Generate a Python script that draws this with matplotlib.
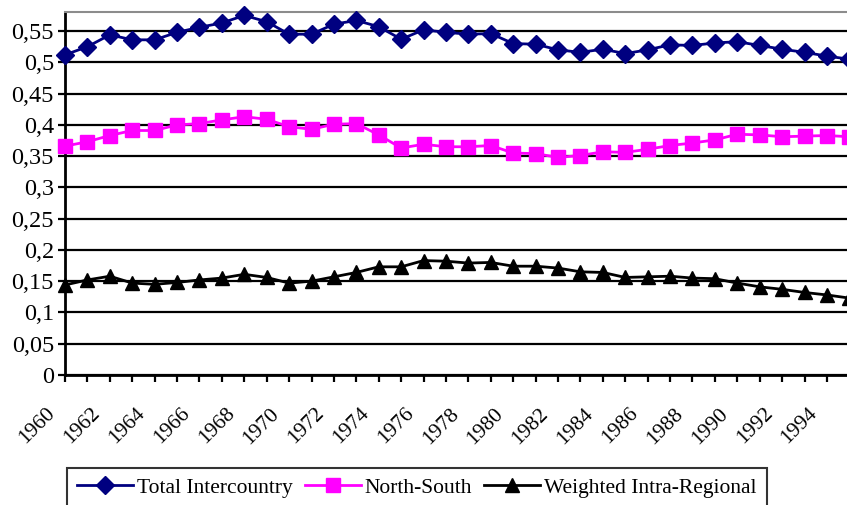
import numpy as np
import matplotlib
matplotlib.use('Agg')
from matplotlib import pyplot as plt
from matplotlib.ticker import MultipleLocator, FuncFormatter
from matplotlib.transforms import ScaledTranslation

plt.rcParams['font.family'] = ['Liberation Serif', 'DejaVu Serif']

years = list(range(1960, 1996))
total_intercountry = [0.512, 0.525, 0.544, 0.536, 0.536, 0.548, 0.556, 0.563, 0.575, 0.565,
                      0.545, 0.545, 0.561, 0.567, 0.557, 0.537, 0.552, 0.548, 0.545, 0.546,
                      0.530, 0.529, 0.520, 0.516, 0.521, 0.514, 0.520, 0.528, 0.527, 0.531,
                      0.533, 0.527, 0.521, 0.516, 0.510, 0.505]
north_south = [0.366, 0.373, 0.383, 0.391, 0.391, 0.400, 0.402, 0.408, 0.413, 0.409,
               0.397, 0.393, 0.401, 0.402, 0.384, 0.363, 0.369, 0.365, 0.365, 0.367,
               0.355, 0.354, 0.348, 0.351, 0.357, 0.356, 0.361, 0.367, 0.371, 0.376,
               0.385, 0.384, 0.381, 0.382, 0.383, 0.381]
intra_regional = [0.144, 0.152, 0.158, 0.147, 0.145, 0.148, 0.152, 0.155, 0.161, 0.156,
                  0.147, 0.150, 0.157, 0.164, 0.173, 0.173, 0.183, 0.182, 0.179, 0.180,
                  0.174, 0.174, 0.171, 0.165, 0.164, 0.156, 0.157, 0.158, 0.155, 0.154,
                  0.147, 0.141, 0.137, 0.132, 0.128, 0.123]

fig = plt.figure(figsize=(8.47, 5.05), dpi=100)
ax = fig.add_axes([65/847, 130/505, (847-65)/847, 363/505])

ax.plot(years, total_intercountry, color='#000080', lw=2, marker='D', ms=9,
        label='Total Intercountry', clip_on=False, zorder=5)
ax.plot(years, north_south, color='#FF00FF', lw=2, marker='s', ms=10,
        label='North-South', clip_on=False, zorder=5)
ax.plot(years, intra_regional, color='black', lw=2, marker='^', ms=10,
        label='Weighted Intra-Regional', clip_on=False, zorder=5)

ax.set_xlim(1960, 1960 + (847 - 65) / 22.41)
ax.set_ylim(0, 0.5805)

ax.yaxis.set_major_locator(MultipleLocator(0.05))
ax.yaxis.set_major_formatter(FuncFormatter(lambda v, p: f'{round(v, 2):g}'.replace('.', ',')))
ax.xaxis.set_major_locator(MultipleLocator(2))
ax.xaxis.set_minor_locator(MultipleLocator(1))
ax.xaxis.set_major_formatter(FuncFormatter(lambda v, p: f'{int(round(v))}'))

ax.grid(axis='y', color='black', lw=1.6, zorder=0)
ax.set_axisbelow(True)

ax.spines['right'].set_visible(False)
ax.spines['top'].set_color('#8c8c8c')
ax.spines['top'].set_linewidth(1.5)
ax.spines['left'].set_linewidth(2)
ax.spines['bottom'].set_linewidth(2)

ax.tick_params(axis='y', length=5, width=1.6, labelsize=17.5, pad=3)
ax.tick_params(axis='x', which='both', length=5, width=1.6, labelsize=15.5, pad=6)
shift = ScaledTranslation(-19/100, -14/100, fig.dpi_scale_trans)
for lab in ax.get_xticklabels():
    lab.set_rotation(45)
    lab.set_ha('right')
    lab.set_va('top')
    lab.set_rotation_mode('anchor')
    lab.set_transform(lab.get_transform() + shift)

leg = fig.legend(loc='upper left', bbox_to_anchor=(67/847, 1 - 468/505), ncol=3,
                 fontsize=15.5, frameon=True, fancybox=False, edgecolor='black',
                 handlelength=2.6, handletextpad=0.2, columnspacing=0.55,
                 borderpad=0.45, borderaxespad=0)
leg.get_frame().set_linewidth(1.5)

fig.savefig('out.png', dpi=100)
